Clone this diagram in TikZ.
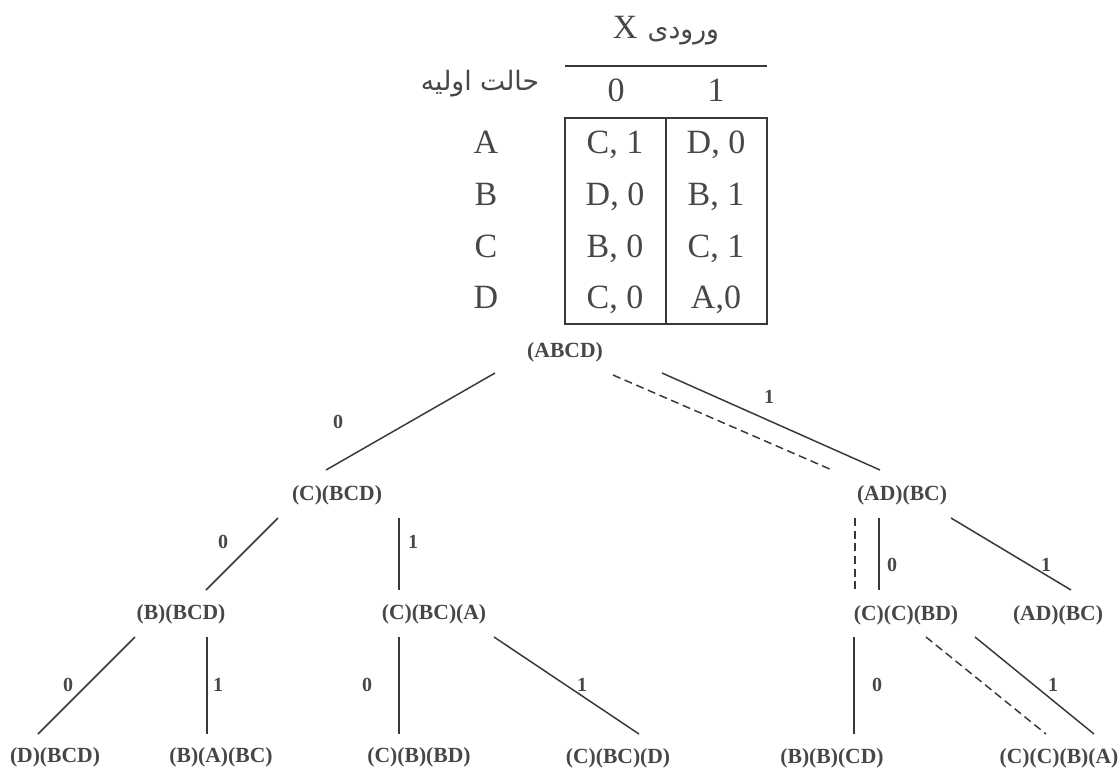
\documentclass[tikz,border=0pt]{standalone}
\usepackage{fontspec}
\setmainfont{Liberation Serif}
\newfontfamily\arabicfont[Script=Arabic]{DejaVu Sans}
\TeXXeTstate=1
\usetikzlibrary{calc}
\definecolor{txt}{HTML}{474747}
\definecolor{ln}{HTML}{383838}
\begin{document}
\begin{tikzpicture}[x=0.75pt,y=-0.75pt,
  tree/.style={font=\fontsize{16.2}{19}\selectfont\bfseries, text=txt, inner sep=0pt},
  elab/.style={font=\fontsize{15}{18}\selectfont\bfseries, text=txt, inner sep=0pt},
  tab/.style={font=\fontsize{25.5}{30}\selectfont, text=txt, inner sep=0pt, anchor=base},
  fa/.style={font=\arabicfont\fontsize{20}{24}\selectfont, text=txt, inner sep=0pt, anchor=base},
  tabline/.style={draw=ln, line width=1.5pt},
  edge/.style={draw=ln, line width=1.1pt},
  dedge/.style={edge, dash pattern=on 6pt off 3.5pt}]
\useasboundingbox[fill=white] (0,0) rectangle (1119,772);

% ---- table ----
\node[tab] (hx) at (666,38) {X\hspace{0.3em}{\arabicfont\fontsize{20}{24}\selectfont\beginR ورودی\endR}};
\node[fa] (hs) at (480,90) {\beginR حالت اولیه\endR};
\coordinate (hl1) at (565,66);
\coordinate (hl2) at (767,66);
\draw[tabline] (hl1) -- (hl2);
\node[tab] (h0) at (616,101) {0};
\node[tab] (h1) at (716,101) {1};
\coordinate (tl) at (565,118);
\coordinate (br) at (767,324);
\coordinate (mt) at (666,118);
\coordinate (mb) at (666,324);
\draw[tabline] (tl) rectangle (br);
\draw[tabline] (mt) -- (mb);
\node[tab] (rA) at (486,153) {A};
\node[tab] (rB) at (486,205) {B};
\node[tab] (rC) at (486,257) {C};
\node[tab] (rD) at (486,308) {D};
\node[tab] (a0) at (615,153) {C, 1};
\node[tab] (a1) at (716,153) {D, 0};
\node[tab] (b0) at (615,205) {D, 0};
\node[tab] (b1) at (716,205) {B, 1};
\node[tab] (c0) at (615,257) {B, 0};
\node[tab] (c1) at (716,257) {C, 1};
\node[tab] (d0) at (615,308) {C, 0};
\node[tab] (d1) at (716,308) {A,0};

% ---- tree nodes ----
\node[tree] (n0) at (565,352) {(ABCD)};
\node[tree] (n1) at (337,495) {(C)(BCD)};
\node[tree] (n2) at (902,495) {(AD)(BC)};
\node[tree] (n3) at (181,614) {(B)(BCD)};
\node[tree] (n4) at (434,614) {(C)(BC)(A)};
\node[tree] (n5) at (906,615) {(C)(C)(BD)};
\node[tree] (n6) at (1058,615) {(AD)(BC)};
\node[tree] (n7) at (55,757) {(D)(BCD)};
\node[tree] (n8) at (221,757) {(B)(A)(BC)};
\node[tree] (n9) at (419,757) {(C)(B)(BD)};
\node[tree] (n10) at (618,758) {(C)(BC)(D)};
\node[tree] (n11) at (832,758) {(B)(B)(CD)};
\node[tree] (n12) at (1059,758) {(C)(C)(B)(A)};

% ---- connectors ----
\draw[edge]  ($(n0)+(-70,21)$) -- ($(n1)+(-11,-25)$);
\draw[dedge] ($(n0)+(48,23)$)  -- ($(n2)+(-70,-25)$);
\draw[edge]  ($(n0)+(97,21)$)  -- ($(n2)+(-22,-25)$);
\draw[edge]  ($(n1)+(-59,23)$) -- ($(n3)+(25,-24)$);
\draw[edge]  ($(n1)+(62,23)$)  -- ($(n4)+(-35,-24)$);
\draw[edge]  ($(n3)+(-46,23)$) -- ($(n7)+(-17,-23)$);
\draw[edge]  ($(n3)+(26,23)$)  -- ($(n8)+(-14,-23)$);
\draw[edge]  ($(n4)+(-35,23)$) -- ($(n9)+(-20,-23)$);
\draw[edge]  ($(n4)+(60,23)$)  -- ($(n10)+(21,-24)$);
\draw[dedge] ($(n2)+(-47,23)$) -- ($(n5)+(-51,-25)$);
\draw[edge]  ($(n2)+(-23,23)$) -- ($(n5)+(-27,-25)$);
\draw[edge]  ($(n2)+(49,23)$)  -- ($(n6)+(13,-25)$);
\draw[edge]  ($(n5)+(-52,22)$) -- ($(n11)+(22,-24)$);
\draw[edge]  ($(n5)+(69,22)$)  -- ($(n12)+(35,-24)$);
\draw[dedge] ($(n5)+(20,22)$)  -- ($(n12)+(-13,-24)$);

% ---- edge labels ----
\node[elab] (l1) at (338,422) {0};
\node[elab] (l3) at (769,397) {1};
\node[elab] (l4) at (223,542) {0};
\node[elab] (l5) at (413,542) {1};
\node[elab] (l6) at (68,685) {0};
\node[elab] (l7) at (218,685) {1};
\node[elab] (l8) at (367,685) {0};
\node[elab] (l9) at (582,685) {1};
\node[elab] (l11) at (892,565) {0};
\node[elab] (l12) at (1046,565) {1};
\node[elab] (l13) at (877,685) {0};
\node[elab] (l14) at (1053,685) {1};
\end{tikzpicture}
\end{document}
